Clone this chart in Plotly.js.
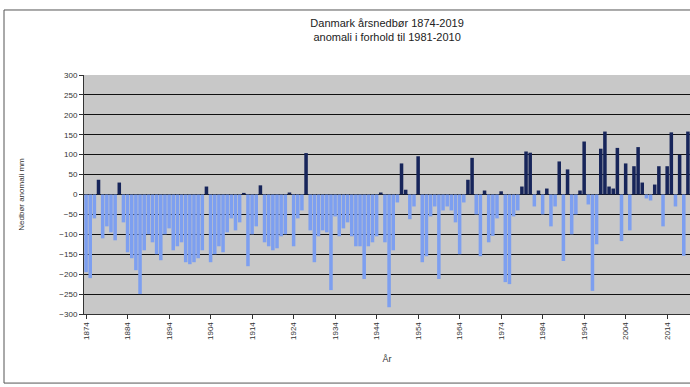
<!DOCTYPE html>
<html><head><meta charset="utf-8">
<script src="https://cdn.plot.ly/plotly-3.0.1.min.js"></script>
<style>html,body{margin:0;padding:0;background:#fff}#c{width:690px;height:387px}</style>
</head><body><div id="c"></div>
<script>
const startYear = 1874;
const anomalies = [
 -195,-210,-60,37,-110,-80,-95,-115,30,-70,
 -145,-160,-190,-250,-140,-100,-120,-150,-165,-100,
 -85,-140,-130,-120,-170,-175,-170,-160,-140,20,
 -170,-150,-130,-145,-95,-60,-90,-70,4,-180,
 -100,-80,23,-120,-130,-140,-135,-105,-100,5,
 -130,-60,-40,104,-90,-170,-105,-90,-95,-240,
 -55,-105,-85,-70,-105,-130,-130,-212,-130,-120,
 -105,5,-120,-283,-140,-20,78,12,-62,-30,
 96,-170,-155,-55,-30,-212,-40,-30,-40,-70,
 -150,-20,37,92,-50,-155,10,-120,-104,-60,
 8,-220,-225,-55,-40,20,108,105,-30,10,
 -50,15,-80,-30,83,-167,63,-100,-50,10,
 133,-25,-242,-125,115,158,20,15,117,-117,
 78,-90,71,119,30,-10,-15,25,71,-80,
 71,156,-30,100,-154,158
];
const years = anomalies.map((v,i)=>startYear+i);
const tickYears = [1874,1884,1894,1904,1914,1924,1934,1944,1954,1964,1974,1984,1994,2004,2014];
const yTicks = [-300,-250,-200,-150,-100,-50,0,50,100,150,200,250,300];
const posColor = '#17255a', negColor = '#7d9ff0';

const trace = {
  type:'bar', x:years, y:anomalies,
  marker:{color:anomalies.map(v=>v>=0?posColor:negColor), line:{width:0}},
  hoverinfo:'x+y'
};
const layout = {
  width:690, height:387,
  margin:{l:84,r:0,t:75,b:73},
  paper_bgcolor:'#ffffff', plot_bgcolor:'#c8c8c8',
  bargap:0.15, showlegend:false,
  font:{family:'Liberation Sans, Arial, sans-serif', color:'#222', size:8},
  title:{text:'Danmark årsnedbør 1874-2019<br>anomali i forhold til 1981-2010',
         font:{size:11,color:'#222'}, x:0.561, xanchor:'center', y:0.93, yanchor:'top'},
  xaxis:{range:[startYear-0.5, years[years.length-1]+0.5], tickvals:tickYears,
         ticktext:tickYears.map(String), tickangle:-90, ticks:'outside', ticklen:4,
         tickcolor:'#333', showgrid:false, zeroline:false, showline:true, linecolor:'#333',
         tickfont:{size:8,color:'#333'},
         title:{text:'År', font:{size:9,color:'#333'}, standoff:16}},
  yaxis:{range:[-300,300], tickvals:yTicks, ticks:'outside', ticklen:4, tickcolor:'#333',
         showgrid:true, gridcolor:'#111', gridwidth:1, zeroline:true, zerolinecolor:'#111',
         zerolinewidth:1, showline:true, linecolor:'#333', tickfont:{size:8,color:'#333'},
         title:{text:'Nedbør anomali mm', font:{size:8,color:'#333'}, standoff:33}},
  shapes:[{type:'rect', xref:'paper', yref:'paper', x0:-0.132, x1:1.05, y0:-0.289, y1:1.272,
           line:{color:'#555', width:1}, fillcolor:'rgba(0,0,0,0)', layer:'below'}]
};
Plotly.newPlot('c',[trace],layout,{staticPlot:true});
</script></body></html>
